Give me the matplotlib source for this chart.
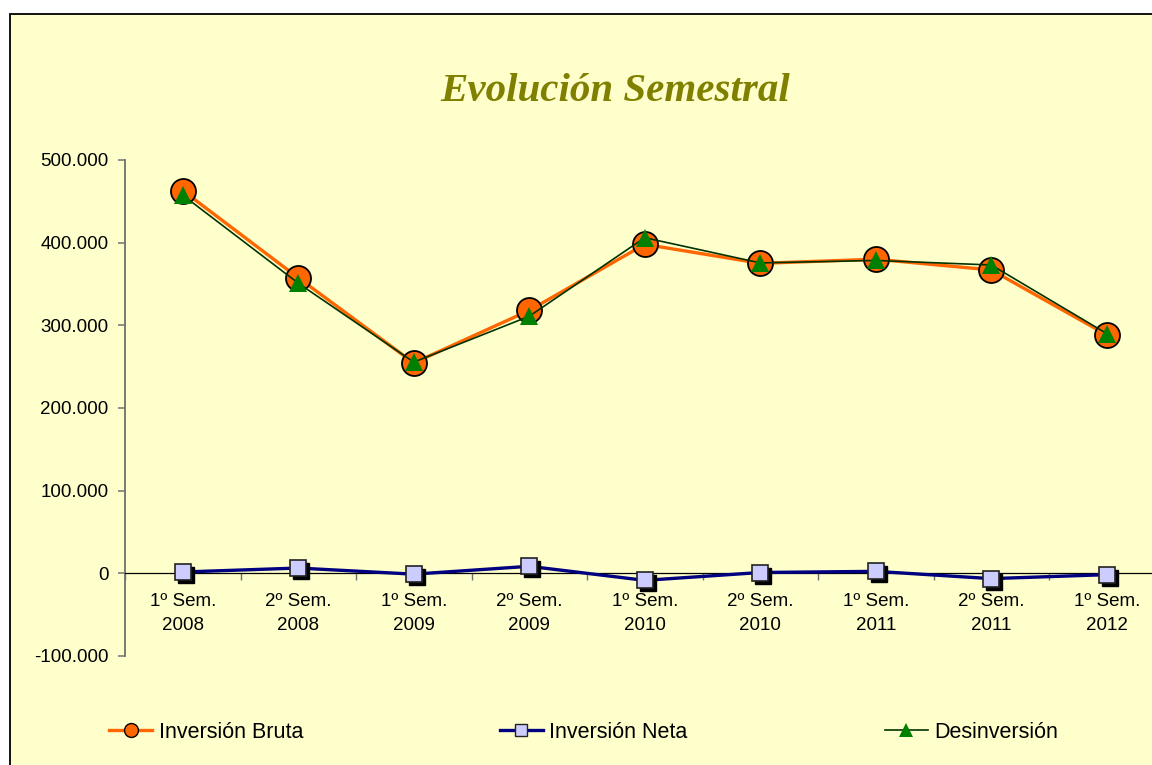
import matplotlib
matplotlib.use("Agg")
import matplotlib.pyplot as plt
import numpy as np
from matplotlib.patches import Rectangle
from matplotlib.ticker import FuncFormatter, FixedLocator
from matplotlib.lines import Line2D
import matplotlib.transforms as mtransforms

categories = ["1º Sem.\n2008", "2º Sem.\n2008", "1º Sem.\n2009", "2º Sem.\n2009",
              "1º Sem.\n2010", "2º Sem.\n2010", "1º Sem.\n2011", "2º Sem.\n2011",
              "1º Sem.\n2012"]
inversion_bruta = [463000, 357500, 254500, 318000, 398000, 375000, 380000, 367000, 288500]
inversion_neta = [1600, 6400, -1000, 8500, -8500, 1000, 2400, -6400, -1600]
desinversion = [457500, 351000, 255500, 311000, 406000, 375500, 378500, 373000, 290000]
yticks = [-100000, 0, 100000, 200000, 300000, 400000, 500000]

W, H = 1152, 765
fig = plt.figure(figsize=(W / 100, H / 100), dpi=100, facecolor="white")
plt.rcParams["font.family"] = ["Liberation Sans", "DejaVu Sans"]

# outer chart area
fig.patches.append(Rectangle((9.5 / W, -0.2), 1.2, 1.2 - 13.5 / H,
                             transform=fig.transFigure, facecolor="#FFFFCC",
                             edgecolor="black", linewidth=1.3, zorder=-10))

ax = fig.add_axes([125 / W, 1 - 656 / H, (115.5 * 9) / W, (656 - 160) / H])
ax.set_facecolor("none")
ax.set_zorder(1)
x = np.arange(len(categories))
ax.set_xlim(-0.5, len(categories) - 0.5)
ax.set_ylim(-100000, 500000)

# spines
for s in ["top", "right"]:
    ax.spines[s].set_visible(False)
ax.spines["left"].set_color("#707070")
ax.spines["left"].set_linewidth(1.3)
ax.spines["bottom"].set_position(("data", 0))
ax.spines["bottom"].set_color("black")
ax.spines["bottom"].set_linewidth(0.9)

ax.set_yticks(yticks)
ax.yaxis.set_major_formatter(FuncFormatter(lambda v, p: f"{int(v):,}".replace(",", ".")))
ax.tick_params(axis="y", direction="out", length=5, width=1.1, color="#707070",
               labelsize=13.5, pad=7, labelcolor="black")

ax.set_xticks(x)
ax.set_xticklabels(categories, fontsize=13.5, linespacing=1.55)
ax.tick_params(axis="x", which="major", length=0, pad=14)
ax.xaxis.set_minor_locator(FixedLocator(np.arange(-0.5, len(categories), 1.0)))
ax.tick_params(axis="x", which="minor", direction="out", length=5, width=1.0, color="#707070")

# series
ax.plot(x, inversion_bruta, color="#FF6600", lw=2.4, marker="o", markersize=18,
        markerfacecolor="#FF6600", markeredgecolor="black", markeredgewidth=1.3,
        zorder=3, clip_on=False)
ax.plot(x, desinversion, color="#003300", lw=1.2, marker="^", markersize=13,
        markerfacecolor="#008000", markeredgecolor="#008000", markeredgewidth=0,
        zorder=4, clip_on=False)
shadow = mtransforms.offset_copy(ax.transData, fig=fig, x=2.2, y=-2.2, units="points")
ax.plot(x, inversion_neta, linestyle="none", marker="s", markersize=12,
        markerfacecolor="black", markeredgecolor="black", transform=shadow,
        zorder=5, clip_on=False)
ax.plot(x, inversion_neta, color="#000080", lw=2.4, zorder=4.5, clip_on=False)
ax.plot(x, inversion_neta, linestyle="none", marker="s", markersize=12,
        markerfacecolor="#CCCCFF", markeredgecolor="#222222", markeredgewidth=1.2,
        zorder=6, clip_on=False)

# title
fig.text(615 / W, 1 - 101 / H, "Evolución Semestral", ha="center", va="baseline",
         fontsize=29.5, fontweight="bold", fontstyle="italic", color="#808000",
         family=["Liberation Serif", "DejaVu Serif"])

# legend
handles = [
    Line2D([], [], color="#FF6600", lw=2.4, marker="o", markersize=10,
           markerfacecolor="#FF6600", markeredgecolor="black", markeredgewidth=1.0),
    Line2D([], [], color="#000080", lw=2.4, marker="s", markersize=9,
           markerfacecolor="#CCCCFF", markeredgecolor="#222222", markeredgewidth=1.0),
    Line2D([], [], color="#003300", lw=1.2, marker="^", markersize=10,
           markerfacecolor="#008000", markeredgewidth=0),
]
labels = ["Inversión Bruta", "Inversión Neta", "Desinversión"]
fig.legend(handles, labels, loc="center left", bbox_to_anchor=(109 / W, 1 - 732 / H),
           ncol=3, frameon=False, fontsize=15.5, handlelength=2.0, handletextpad=0.3,
           columnspacing=9.15, borderpad=0, borderaxespad=0)

fig.savefig("out.png", dpi=100, facecolor="white")
